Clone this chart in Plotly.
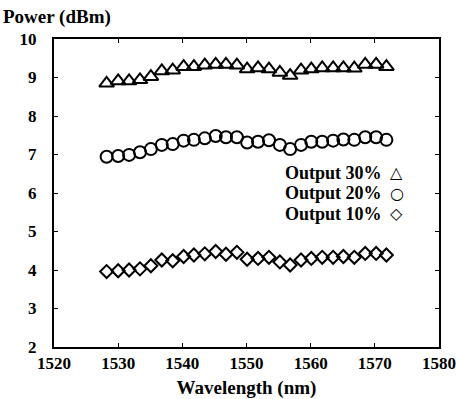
import plotly.graph_objects as go

wavelength = [1528.2, 1530.0, 1531.7, 1533.4, 1535.1, 1536.8, 1538.5, 1540.2, 1541.8,
              1543.5, 1545.2, 1546.8, 1548.5, 1550.1, 1551.8, 1553.5, 1555.2, 1556.8,
              1558.5, 1560.1, 1561.8, 1563.5, 1565.1, 1566.8, 1568.5, 1570.2, 1571.8]

output_30 = [8.85, 8.91, 8.91, 8.94, 9.02, 9.17, 9.19, 9.28, 9.28, 9.32, 9.34, 9.34, 9.32,
             9.22, 9.25, 9.22, 9.13, 9.05, 9.19, 9.22, 9.25, 9.25, 9.25, 9.24, 9.34, 9.34, 9.28]

output_20 = [6.94, 6.96, 6.99, 7.06, 7.14, 7.25, 7.27, 7.36, 7.38, 7.42, 7.48, 7.45, 7.45,
             7.31, 7.33, 7.37, 7.25, 7.14, 7.25, 7.33, 7.33, 7.36, 7.39, 7.38, 7.45, 7.45, 7.38]

output_10 = [3.96, 3.98, 4.00, 4.03, 4.11, 4.26, 4.24, 4.35, 4.39, 4.42, 4.48, 4.41, 4.46,
             4.28, 4.30, 4.33, 4.21, 4.13, 4.26, 4.30, 4.33, 4.33, 4.35, 4.33, 4.43, 4.43, 4.39]

legend_labels = ["Output 30%", "Output 20%", "Output 10%"]
legend_glyphs = ["\u25B3", "\u25CB", "\u25C7"]
x_ticks = [1520, 1530, 1540, 1550, 1560, 1570, 1580]
y_ticks = [2, 3, 4, 5, 6, 7, 8, 9, 10]

FONT = "Liberation Serif, Times New Roman, serif"

fig = go.Figure()
series = [(output_30, "triangle-up-open", 13), (output_20, "circle-open", 12),
          (output_10, "diamond-open", 10)]
for ys, sym, sz in series:
    fig.add_trace(go.Scatter(
        x=wavelength, y=ys, mode="markers",
        marker=dict(symbol=sym, size=sz, color="black", line=dict(color="black", width=2)),
        showlegend=False, cliponaxis=False, hoverinfo="skip"))

legend_y = [6.52, 5.99, 5.46]
for lab, gl, ly in zip(legend_labels, legend_glyphs, legend_y):
    fig.add_annotation(
        x=1571.4, y=ly, xref="x", yref="y", text="<b>" + lab + "</b>",
        showarrow=False, xanchor="right", yanchor="middle",
        font=dict(family=FONT, size=18, color="black"))
    fig.add_annotation(
        x=1573.4, y=ly, xref="x", yref="y", text=gl,
        showarrow=False, xanchor="center", yanchor="middle",
        font=dict(family="DejaVu Sans", size=16, color="black"))

fig.add_annotation(x=-0.137, y=1.071, xref="paper", yref="paper", text="<b>Power (dBm)</b>",
                   showarrow=False, xanchor="left", yanchor="middle",
                   font=dict(family=FONT, size=19, color="black"))

axis_common = dict(showgrid=False, zeroline=False, showline=True, linecolor="black",
                   linewidth=2, mirror="allticks", ticks="inside", ticklen=4,
                   tickwidth=1.2, tickcolor="black", automargin=False,
                   tickfont=dict(family=FONT, size=17, color="black"))

fig.update_xaxes(range=[1520, 1580], tickvals=x_ticks,
                 ticktext=["<b>%d</b>" % v for v in x_ticks],
                 title=dict(text="<b>Wavelength (nm)</b>", standoff=11,
                            font=dict(family=FONT, size=19, color="black")),
                 **axis_common)
fig.update_yaxes(range=[2, 10], tickvals=y_ticks,
                 ticktext=["<b>%d</b>" % v for v in y_ticks],
                 ticklabelstandoff=12,
                 **axis_common)

fig.update_layout(width=456, height=399, margin=dict(l=54, r=17, t=39, b=52),
                  plot_bgcolor="white", paper_bgcolor="white",
                  font=dict(family=FONT, color="black"))

fig.write_html("out.html", config={"displayModeBar": False},
               post_script="document.body.style.margin='0';")
